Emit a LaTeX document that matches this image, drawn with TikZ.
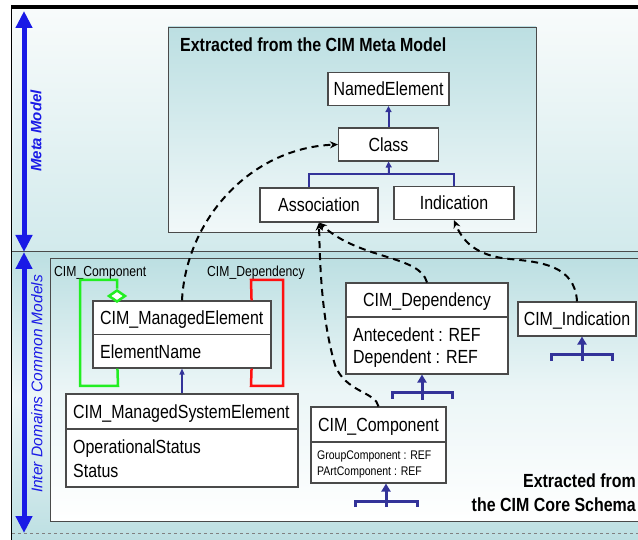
\documentclass[tikz,border=0pt]{standalone}
\usepackage{fontspec}
\setmainfont{Liberation Sans}
\newfontfamily\nar[FakeStretch=0.84]{Liberation Sans}
\usetikzlibrary{arrows.meta,calc,shapes.geometric}
\definecolor{tealA}{HTML}{BCDFE2}
\definecolor{tealB}{HTML}{F1F8F9}
\definecolor{bgtop}{HTML}{F8FBFB}
\definecolor{bgbot}{HTML}{D2EAEC}
\definecolor{bglight}{HTML}{EEF6F7}
\definecolor{navy}{HTML}{333399}
\definecolor{gborder}{HTML}{4A4A4A}
\definecolor{lblue}{HTML}{1A1AE6}
\definecolor{cgreen}{HTML}{22EE22}
\definecolor{cred}{HTML}{FF1010}
\tikzset{
  umlbox/.style={draw=gborder, line width=1.1pt, fill=white, inner sep=0pt},
  big/.style={font=\nar\fontsize{19}{21}\selectfont, text height=13.6pt, text depth=0pt, inner sep=0pt},
  small/.style={font=\nar\fontsize{12.5}{14}\selectfont, text height=9pt, text depth=0pt, inner sep=0pt},
  lbl/.style={font=\nar\fontsize{14.5}{16}\selectfont, text height=10.4pt, text depth=0pt, inner sep=0pt},
  ttl/.style={font=\nar\bfseries\fontsize{19}{24}\selectfont, inner sep=0pt},
  side/.style={rotate=90, text=lblue, text height=10.7pt, text depth=0pt, inner sep=0pt},
  depl/.style={black, line width=2pt, dash pattern=on 7pt off 5pt, -{Stealth[length=8pt,width=7pt]}},
  gen/.style={navy, line width=2pt, -{Triangle[length=6pt,width=6pt]}},
  genthin/.style={navy, line width=1.2pt, -{Triangle[length=6pt,width=5pt]}},
  stem/.style={navy, line width=3pt, -{Triangle[length=8pt,width=9pt]}},
  brk/.style={navy, line width=3pt},
  bigarr/.style={lblue, line width=5pt, {Triangle[length=17pt,width=16pt]}-{Triangle[length=17pt,width=16pt]}},
  loopg/.style={cgreen, line width=2.5pt},
  loopr/.style={cred, line width=2.5pt},
}
\begin{document}
\begin{tikzpicture}[x=1pt,y=-1pt]
\clip (0,0) rectangle (638,540);
\fill[white] (0,0) rectangle (638,540);
% backgrounds
\shade[top color=bgtop, bottom color=bgbot] (12,9) rectangle (638,252);
\shade[top color=tealA, bottom color=tealA, middle color=bglight] (12,252) rectangle (638,540);
\fill[black] (11,5) rectangle (638,9);
\draw[black, line width=1pt] (11.5,5) -- (11.5,540);
\draw[gborder, line width=1pt] (12,252) -- (638,252);
\draw[gray, dashed, line width=0.6pt] (12,533) -- (638,533);

% side arrows and labels
\coordinate (ma1) at (24,11);
\coordinate (ma2) at (24,252);
\coordinate (ia1) at (24,252);
\coordinate (ia2) at (24,533);
\draw[bigarr] (ma1) -- (ma2);
\draw[bigarr] (ia1) -- (ia2);
\node[side, font=\bfseries\itshape\fontsize{15}{17}\selectfont] (mlab) at (36,131) {Meta Model};
\node[side, font=\itshape\fontsize{15.5}{17}\selectfont] (ilab) at (37,384) {Inter Domains Common Models};

% meta model panel
\shade[top color=tealA, bottom color=tealB, draw=gborder, line width=0.8pt] (168,27) rectangle (536,232);
\node[ttl, anchor=west] (mtitle) at (180,45) {Extracted from the CIM Meta Model};
\node[umlbox, big, minimum width=121pt, minimum height=33pt] (ne) at (388.5,89) {NamedElement};
\node[umlbox, big, minimum width=100pt, minimum height=33pt] (cls) at (388.5,144.5) {Class};
\node[umlbox, big, minimum width=118pt, minimum height=34pt] (asc) at (319,205) {Association};
\node[umlbox, big, minimum width=120pt, minimum height=33pt] (ind) at (454,203) {Indication};
\draw[gen] (cls.north) -- (ne.south);
\coordinate (tj) at (389,174);
\draw[navy, line width=2pt] ([xshift=-10pt]asc.north) |- (tj) -| (ind.north);
\draw[gen] (tj) -- (cls.south);

% lower panel
\shade[top color=tealA, bottom color=white, middle color=white!70!tealA, draw=gborder, line width=0.8pt] (50,258) rectangle (660,521);
\node[lbl, anchor=west] (lcomp) at (54,271) {CIM\_Component};
\node[lbl, anchor=west] (ldep) at (207,271) {CIM\_Dependency};

% CIM_ManagedElement
\node[umlbox, minimum width=178pt, minimum height=67pt] (me) at (182,334.5) {};
\draw[gborder, line width=1.1pt] (me.west) -- (me.east);
\node[big, anchor=west] (metxt) at (100,318) {CIM\_ManagedElement};
\node[big, anchor=west] (metxt2) at (100,352) {ElementName};

% CIM_ManagedSystemElement
\node[umlbox, minimum width=232pt, minimum height=93pt] (mse) at (182,440.5) {};
\draw[gborder, line width=1.1pt] ([yshift=11.5pt]mse.west) -- ([yshift=11.5pt]mse.east);
\node[big, anchor=west] (msetxt) at (73,412) {CIM\_ManagedSystemElement};
\node[big, anchor=west] (msea1) at (73,447) {OperationalStatus};
\node[big, anchor=west] (msea2) at (73,471) {Status};
\draw[genthin] (mse.north) -- (me.south);

% loops
\node[diamond, draw=cgreen, line width=2.5pt, fill=white, minimum width=17pt, minimum height=12pt, inner sep=0pt] (dia) at (117,296) {};
\draw[loopg] (dia.north) -- (117,280) -- (80,280) -- (80,386) -- (118,386) -- ($(me.south west)+(25,0)$);
\draw[loopr] ($(me.north east)+(-20,0)$) -- (251,280) -- (283,280) -- (283,386) -- (251,386) -- ($(me.south east)+(-20,0)$);

% CIM_Dependency
\node[umlbox, minimum width=162pt, minimum height=91pt] (dep) at (427,328.5) {};
\draw[gborder, line width=1.1pt] ([yshift=11.5pt]dep.west) -- ([yshift=11.5pt]dep.east);
\node[big] (deptxt) at (427,300) {CIM\_Dependency};
\node[big, anchor=west] (depa1) at (353,335) {Antecedent : REF};
\node[big, anchor=west] (depa2) at (353,357) {Dependent : REF};

% CIM_Indication
\node[umlbox, big, minimum width=118pt, minimum height=34pt] (cind) at (577,319) {CIM\_Indication};

% CIM_Component
\node[umlbox, minimum width=135pt, minimum height=76pt] (comp) at (378.5,445) {};
\draw[gborder, line width=1.1pt] ([yshift=3pt]comp.west) -- ([yshift=3pt]comp.east);
\node[big] (comptxt) at (378.5,425) {CIM\_Component};
\node[small, anchor=west] (compa1) at (317,455) {GroupComponent : REF};
\node[small, anchor=west] (compa2) at (317,471) {PArtComponent : REF};

% brackets
\coordinate (bd) at (422,400);
\draw[brk] (392,399) -- (392,393) -- (452,393) -- (452,399);
\draw[stem] (bd) -- (bd |- dep.south);
\coordinate (bi) at (582,361);
\draw[brk] (551,361) -- (551,355) -- (612,355) -- (612,361);
\draw[stem] (bi) -- (bi |- cind.south);
\coordinate (bc) at (386,507);
\draw[brk] (355,507) -- (355,501) -- (417,501) -- (417,507);
\draw[stem] (bc) -- (bc |- comp.south);

% extracted from core
\node[ttl, anchor=east, align=right] (core) at (636,493) {Extracted from\\the CIM Core Schema};

% dashed instance-of curves
\draw[depl] (me.north) .. controls (186,220) and (250,148) .. (cls.west);
\draw[depl] (comp.north) .. controls (376,392) and (345,392) .. (335,365) .. controls (322,320) and (320,270) .. (asc.south);
\draw[depl] (dep.north) .. controls (420,255) and (360,260) .. (asc.south);
\draw[depl] (cind.north) .. controls (575,265) and (540,262) .. (510,259) .. controls (475,256) and (462,240) .. (ind.south);
\end{tikzpicture}
\end{document}
